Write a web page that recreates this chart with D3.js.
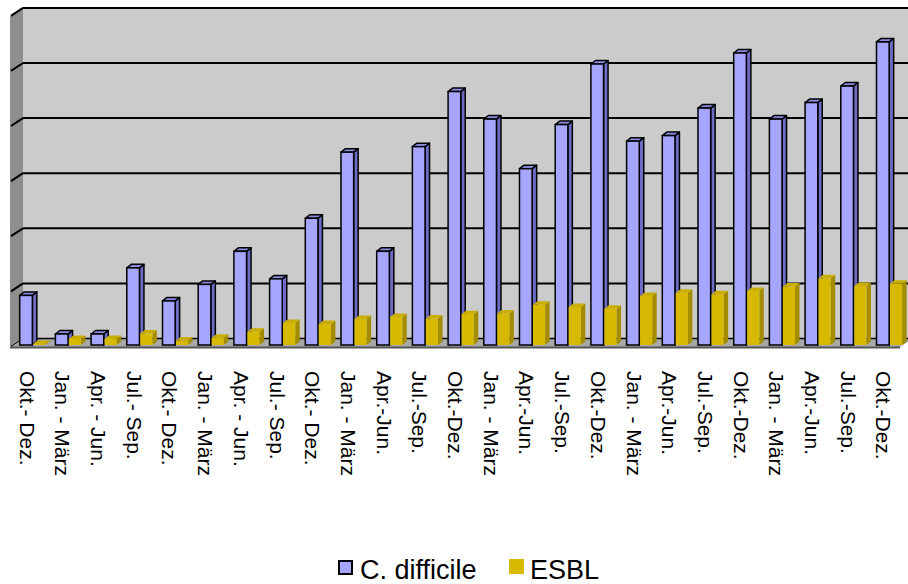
<!DOCTYPE html>
<html>
<head>
<meta charset="utf-8">
<script src="https://cdn.jsdelivr.net/npm/d3@7"></script>
<style>
    body { margin: 0; background: #fff; }
    text { font-family: "Liberation Sans", Arial, sans-serif; fill: #000; }
</style>
</head>
<body>
<div id="chart"></div>
<script>
var categories = [
    'Okt.- Dez.', 'Jan. - März', 'Apr. - Jun.', 'Jul.- Sep.',
    'Okt.- Dez.', 'Jan. - März', 'Apr. - Jun.', 'Jul.- Sep.',
    'Okt.- Dez.', 'Jan. - März', 'Apr.-Jun.', 'Jul.-Sep.',
    'Okt.-Dez.', 'Jan. - März', 'Apr.-Jun.', 'Jul.-Sep.',
    'Okt.-Dez.', 'Jan. - März', 'Apr.-Jun.', 'Jul.-Sep.',
    'Okt.-Dez.', 'Jan. - März', 'Apr.-Jun.', 'Jul.-Sep.',
    'Okt.-Dez.'
];
var cdiff = [9, 2, 2, 14, 8, 11, 17, 12, 23, 35, 17, 36, 46, 41, 32, 40, 51, 37, 38, 43, 53, 41, 44, 47, 55];
var esbl = [0.2, 1.1, 1.1, 2.1, 0.8, 1.3, 2.4, 4, 3.8, 4.7, 5.1, 4.8, 5.6, 5.7, 7.3, 6.9, 6.6, 8.9, 9.5, 9.2, 9.8, 10.6, 12.1, 10.7, 11.1];
var seriesNames = ['C. difficile', 'ESBL'];
var yTicks = [0, 10, 20, 30, 40, 50, 60];

(function() {
    var width = 908,
        height = 584,
        wall_left = 23,
        wall_top = 8,
        depth_x = 13,          // depth of the floor / left wall
        depth_y = 8.5,
        bar_base = 345,
        bar_dx = 4.5,          // depth of one column
        bar_dy = -3.5,
        blue = { front: '#a6a6ff', side: '#6c6cc4', top: '#8a8ae0' },
        gold = { front: '#d6b900', side: '#a38c00', top: '#c9ae00' };

    var svg = d3.select('#chart').append('svg')
        .attr('width', width)
        .attr('height', height);

    var x = d3.scaleBand()
        .domain(d3.range(categories.length))
        .range([15, 907.5])
        .paddingInner(0.235)
        .paddingOuter(0.1175);

    var xs = d3.scaleBand()
        .domain(seriesNames)
        .range([0, x.bandwidth()]);

    var y = d3.scaleLinear()
        .domain([0, 60])
        .range([bar_base, bar_base - 6 * 55.1]);

    // the wall sits behind the columns
    var back = function(v) { return y(v) - 6.5; };
    var floor_back = back(0);

    // left wall
    svg.append('path')
        .attr('d', 'M' + (wall_left - depth_x) + ',' + (wall_top + depth_y) +
            'L' + wall_left + ',' + wall_top +
            'L' + wall_left + ',' + floor_back +
            'L' + (wall_left - depth_x) + ',' + (floor_back + depth_y) + 'Z')
        .attr('fill', '#8e8e8e');

    // back wall
    svg.append('rect')
        .attr('x', wall_left)
        .attr('y', wall_top)
        .attr('width', width - wall_left)
        .attr('height', floor_back - wall_top)
        .attr('fill', '#cbcbcb');

    // floor
    svg.append('path')
        .attr('d', 'M' + wall_left + ',' + floor_back +
            'L' + (width + 5) + ',' + floor_back +
            'L' + (width + 5 - depth_x) + ',' + (floor_back + depth_y) +
            'L' + (wall_left - depth_x) + ',' + (floor_back + depth_y) + 'Z')
        .attr('fill', '#a9a9a9');

    svg.append('line')
        .attr('x1', wall_left - depth_x)
        .attr('y1', floor_back + depth_y + 0.5)
        .attr('x2', width + 5 - depth_x)
        .attr('y2', floor_back + depth_y + 0.5)
        .attr('stroke', '#555')
        .attr('stroke-width', 2);

    // gridlines on back + left wall
    yTicks.forEach(function(t) {
        var gy = back(t);
        svg.append('line')
            .attr('x1', wall_left)
            .attr('y1', gy)
            .attr('x2', width)
            .attr('y2', gy)
            .attr('stroke', '#000')
            .attr('stroke-width', t === 0 ? 1.5 : 2);
        svg.append('line')
            .attr('x1', wall_left - depth_x + 1)
            .attr('y1', gy + depth_y - 0.6)
            .attr('x2', wall_left)
            .attr('y2', gy)
            .attr('stroke', '#000')
            .attr('stroke-width', t === 0 ? 1 : 2);
    });

    // one 3d column: front, side, top
    function column(g, x0, w, v, c, outline) {
        var top = y(v),
            stroke = outline ? '#000' : 'none',
            sw = outline ? 1.5 : 0;
        g.append('path')
            .attr('d', 'M' + (x0 + w) + ',' + top +
                'L' + (x0 + w + bar_dx) + ',' + (top + bar_dy) +
                'L' + (x0 + w + bar_dx) + ',' + (bar_base + bar_dy) +
                'L' + (x0 + w) + ',' + bar_base + 'Z')
            .attr('fill', c.side)
            .attr('stroke', stroke)
            .attr('stroke-width', sw)
            .attr('stroke-linejoin', 'round');
        g.append('path')
            .attr('d', 'M' + x0 + ',' + top +
                'L' + (x0 + bar_dx) + ',' + (top + bar_dy) +
                'L' + (x0 + w + bar_dx) + ',' + (top + bar_dy) +
                'L' + (x0 + w) + ',' + top + 'Z')
            .attr('fill', c.top)
            .attr('stroke', stroke)
            .attr('stroke-width', sw)
            .attr('stroke-linejoin', 'round');
        g.append('rect')
            .attr('x', x0)
            .attr('y', top)
            .attr('width', w)
            .attr('height', bar_base - top)
            .attr('fill', c.front)
            .attr('stroke', stroke)
            .attr('stroke-width', sw);
    }

    var bars = svg.append('g');
    categories.forEach(function(cat, i) {
        var g = bars.append('g');
        column(g, x(i) + xs('C. difficile') + 0.5, xs.bandwidth() - 1, cdiff[i], blue, true);
        column(g, x(i) + xs('ESBL') + 0.3, xs.bandwidth() - 1.5, esbl[i], gold, false);
    });

    // category labels, turned to read downwards
    svg.append('g').selectAll('text')
        .data(categories)
        .join('text')
        .attr('transform', function(d, i) {
            return 'translate(' + (x(i) + 8) + ',371) rotate(90)';
        })
        .attr('dominant-baseline', 'central')
        .attr('font-size', 21)
        .text(function(d) { return d; });

    // legend
    var legend = svg.append('g');
    legend.append('rect')
        .attr('x', 339).attr('y', 561)
        .attr('width', 13).attr('height', 13)
        .attr('fill', blue.front)
        .attr('stroke', '#000')
        .attr('stroke-width', 2);
    legend.append('text')
        .attr('x', 360).attr('y', 579)
        .attr('font-size', 27)
        .text(seriesNames[0]);
    legend.append('rect')
        .attr('x', 509).attr('y', 559)
        .attr('width', 15).attr('height', 15)
        .attr('fill', gold.front);
    legend.append('text')
        .attr('x', 530).attr('y', 579)
        .attr('font-size', 27)
        .text(seriesNames[1]);
})();
</script>
</body>
</html>
